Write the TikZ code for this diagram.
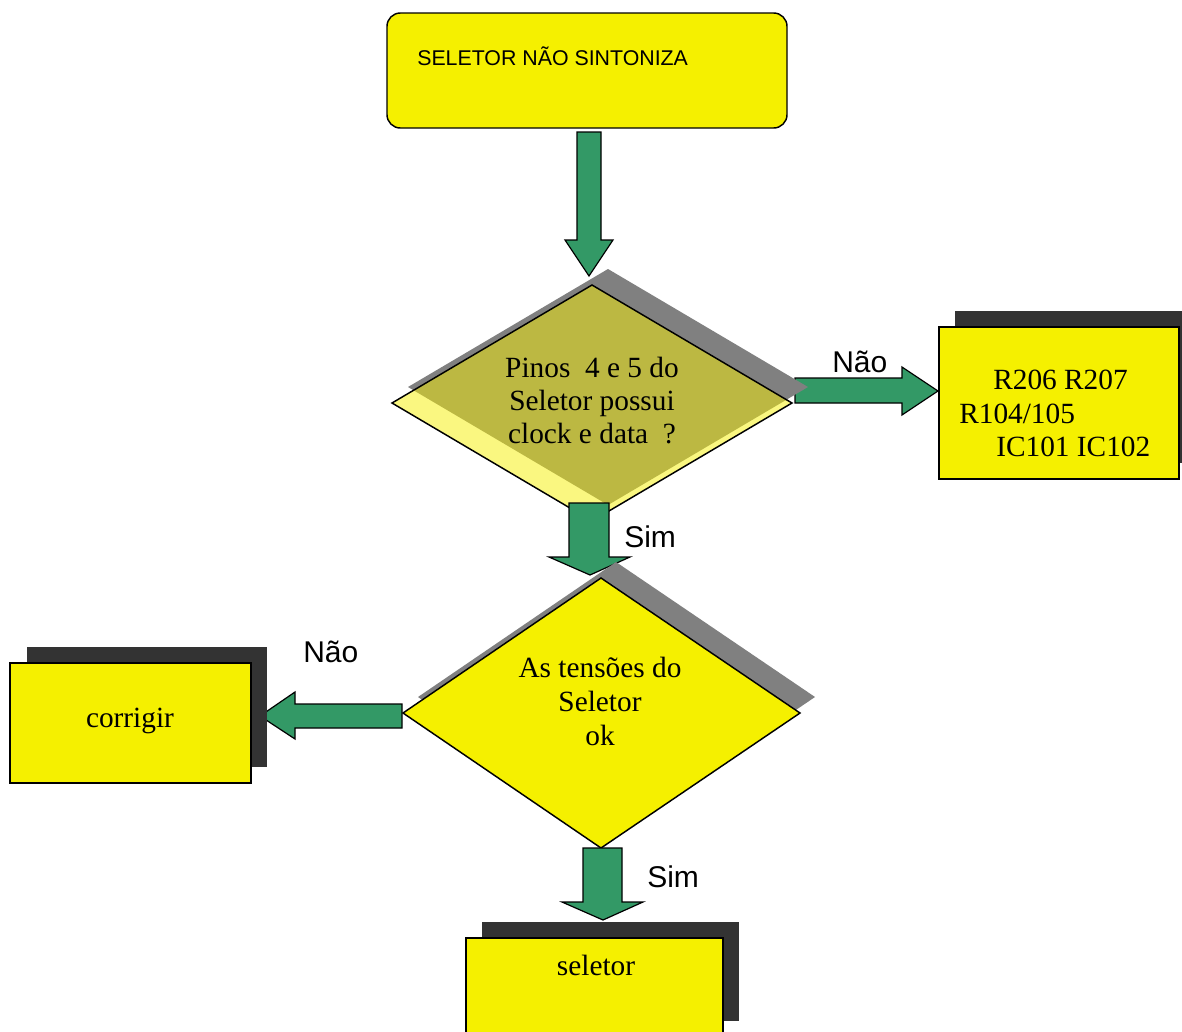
\documentclass[tikz,border=0pt]{standalone}
\usepackage{fontspec}
\setmainfont{Liberation Serif}
\newfontfamily\arialf{Liberation Sans}
\definecolor{yel}{RGB}{245,240,0}
\definecolor{lyel}{RGB}{250,247,128}
\definecolor{olive}{RGB}{188,184,66}
\definecolor{grn}{RGB}{51,153,102}
\definecolor{shgray}{RGB}{128,128,128}
\definecolor{shdark}{RGB}{51,51,51}
\begin{document}
\begin{tikzpicture}[x=0.75pt,y=-0.75pt,
  boxfill/.style={fill=yel,draw=black,line width=1.1pt},
  darkshadow/.style={fill=shdark},
  grayshadow/.style={fill=shgray},
  blockarrow/.style={fill=grn,draw=black,line width=0.9pt,line join=miter},
  tlabel/.style={font=\fontsize{22}{25}\selectfont,inner sep=0pt},
  alabel/.style={font=\arialf\fontsize{22.5}{26}\selectfont,inner sep=0pt,anchor=base west}]
\useasboundingbox (0,0) rectangle (1182,1032);
\fill[white] (0,0) rectangle (1182,1032);

% top box
\draw[boxfill,rounded corners=10pt] (387,13) rectangle (787,128);
\node[anchor=base west,inner sep=0pt,font=\arialf\fontsize{16}{19}\selectfont] (title) at (417,65) {SELETOR NÃO SINTONIZA};

% arrow 1
\draw[blockarrow] (577,132) -- (601,132) -- (601,240) -- (613,240) -- (589,276) -- (565,240) -- (577,240) -- cycle;

% right arrow Nao (behind diamond 1)
\draw[blockarrow] (795,378) -- (902,378) -- (902,367) -- (938,391) -- (902,415) -- (902,403) -- (795,403) -- cycle;
\node[alabel] (nao1) at (832,372) {Não};

% diamond 1
\fill[grayshadow] (608,269) -- (808,387) -- (608,505) -- (408,387) -- cycle;
\fill[lyel] (592,285) -- (792,403) -- (592,521) -- (392,403) -- cycle;
\begin{scope}
\clip (592,285) -- (792,403) -- (592,521) -- (392,403) -- cycle;
\fill[olive] (608,269) -- (808,387) -- (608,505) -- (408,387) -- cycle;
\end{scope}
\draw[line width=1.1pt,line join=miter] (592,285) -- (792,403) -- (592,521) -- (392,403) -- cycle;
\node[tlabel,anchor=base] (d1a) at (592,377) {Pinos\ \ 4 e 5 do};
\node[tlabel,anchor=base] (d1b) at (592,410) {Seletor possui};
\node[tlabel,anchor=base] (d1c) at (592,443) {clock e data\ \ ?};

% right box
\fill[darkshadow] (955,311) rectangle (1195,463);
\draw[boxfill] (939,327) rectangle (1179,479);
\node[tlabel,anchor=base west] (r1) at (993,389) {R206 R207};
\node[tlabel,anchor=base west] (r2) at (959,423) {R104/105};
\node[tlabel,anchor=base west] (r3) at (996,456) {IC101 IC102};

% sim arrow 1
\draw[blockarrow] (569,503) -- (609,503) -- (609,557) -- (630,557) -- (590,575) -- (549,557) -- (569,557) -- cycle;
\node[alabel] (sim1) at (624,547) {Sim};

% left arrow Nao
\draw[blockarrow] (402,704) -- (295,704) -- (295,692) -- (260,716) -- (295,739) -- (295,728) -- (402,728) -- cycle;
\node[alabel] (nao2) at (303,662) {Não};

% diamond 2
\fill[grayshadow] (616,562) -- (815,697) -- (616,832) -- (418,697) -- cycle;
\draw[boxfill,line join=miter] (601,578) -- (800,713) -- (601,848) -- (403,713) -- cycle;
\node[tlabel,anchor=base] (d2a) at (600,677) {As tensões do};
\node[tlabel,anchor=base] (d2b) at (600,711) {Seletor};
\node[tlabel,anchor=base] (d2c) at (600,745) {ok};

% corrigir box
\fill[darkshadow] (27,647) rectangle (267,767);
\draw[boxfill] (10,663) rectangle (251,783);
\node[tlabel,anchor=base] (corr) at (130,727) {corrigir};

% sim arrow 2
\draw[blockarrow] (583,848) -- (622,848) -- (622,902) -- (643,902) -- (603,920) -- (562,902) -- (583,902) -- cycle;
\node[alabel] (sim2) at (647,887) {Sim};

% seletor box
\fill[darkshadow] (482,922) rectangle (739,1021);
\draw[boxfill] (466,938) rectangle (723,1040);
\node[tlabel,anchor=base] (sel) at (596,975) {seletor};
\end{tikzpicture}
\end{document}
